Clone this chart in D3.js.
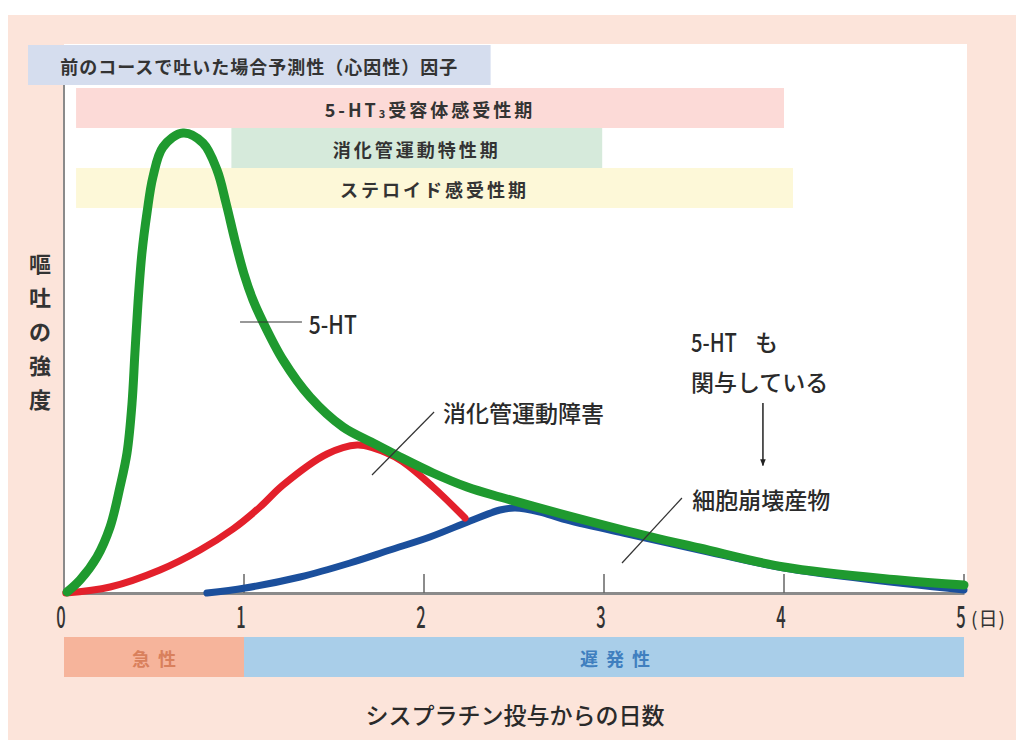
<!DOCTYPE html>
<html><head><meta charset="utf-8">
<script src="https://cdn.jsdelivr.net/npm/d3@7"></script>
<style>
html,body{margin:0;padding:0;background:#fff;}
svg{display:block;}
text{font-family:"Noto Sans CJK JP","Noto Sans",sans-serif;}
</style></head>
<body>
<svg id="chart" width="1016" height="742"></svg>
<script>
// ---- data ----
const xTicks = [0, 1, 2, 3, 4, 5];
const xUnit = "(日)";
const xTitle = "シスプラチン投与からの日数";
const yTitle = "嘔吐の強度";

// 5-HT curve (day, intensity)
const htDays = [0.017,0.089,0.183,0.256,0.311,0.35,0.378,0.394,0.411,0.433,0.461,0.494,0.55,0.661,0.772,0.85,0.9,0.95,1.0,1.05,1.1,1.217,1.367,1.55,1.717,1.867,2.05,2.239,2.422,3.106,3.53,4.0,4.64,5.0];
const htVals = [0.2,2.6,7.2,13.2,21.2,28,38,48,58,68,76,83.2,89.2,92,90,84.6,78,70.5,63.8,58.6,54.6,46.6,39.2,33.2,30,27.2,24,21.2,19.2,12.6,9,5.2,2.6,1.6];
// 消化管運動障害 curve
const giDays = [0.01,0.256,0.533,0.756,0.939,1.089,1.217,1.461,1.628,1.717,1.867,2.05,2.228];
const giVals = [0,1.2,4.6,8.6,12.8,17.2,21.6,27.8,29.6,29,26.6,21.2,15];
// 細胞崩壊産物 curve
const cellDays = [0.794,1.006,1.311,1.589,1.811,2.033,2.256,2.422,2.506,2.644,2.772,3.106,3.53,4.0,5.0];
const cellVals = [0,1,3.2,6,8.6,11.2,14.4,16.6,17,16.2,14.8,12,8.6,5,0.6];

// period bars at top (start day, end day)
const periodLabels = ["前のコースで吐いた場合予測性（心因性）因子", "5-HT3受容体感受性期", "消化管運動特性期", "ステロイド感受性期"];
const periodStart = [-0.2, 0.067, 0.93, 0.067];
const periodEnd = [2.37, 4.0, 2.99, 4.05];

// phase bars below axis
const phaseLabels = ["急 性", "遅 発 性"];
const phaseStart = [0, 1];
const phaseEnd = [1, 5];

// annotations
const annoLabels = ["5-HT", "消化管運動障害", "細胞崩壊産物"];
const annoLineFrom = [[0.978,54.2],[2.056,36.2],[3.433,19]];
const annoLineTo = [[1.322,54.2],[1.711,23.6],[3.10,6]];
const annoTextAt = [[1.36,54.0],[2.105,36.2],[3.49,18.8]];
const noteLines = ["5-HT も", "関与している"];
const noteAt = [3.483, 50.4];
const arrowFrom = [3.883, 38];
const arrowTo = [3.883, 25.5];

// ---- styles ----
const periodColors = ["#d5ddee", "#fcdad7", "#d6eadb", "#fdf8d8"];
const periodRowTop = [45, 88, 128, 168];
const periodRowH = 40;
const phaseColors = ["#f6b49b", "#a9cee9"];
const phaseTextColors = ["#d9805c", "#3f7fbf"];

const svg = d3.select("#chart");
const W = 1016, H = 742;
const x = d3.scaleLinear().domain([0, 5]).range([64, 964]);
const y = d3.scaleLinear().domain([0, 100]).range([593, 93]);

// background
svg.append("rect").attr("x", 0).attr("y", 0).attr("width", W).attr("height", H).attr("fill", "#fff");
svg.append("rect").attr("x", 8).attr("y", 15).attr("width", 1008).attr("height", 725).attr("fill", "#fce4da");
svg.append("rect").attr("x", 64).attr("y", 44).attr("width", 903).attr("height", 549).attr("fill", "#fff");

// period bars
const pg = svg.append("g");
periodLabels.forEach((lab, i) => {
  const x0 = i === 0 ? 28 : x(periodStart[i]);
  const x1 = x(periodEnd[i]);
  pg.append("rect").attr("x", x0).attr("y", periodRowTop[i]).attr("width", x1 - x0).attr("height", periodRowH).attr("fill", periodColors[i]);
  const t = pg.append("text").attr("x", (x0 + x1) / 2).attr("y", periodRowTop[i] + periodRowH / 2 + 1)
    .attr("text-anchor", "middle").attr("dominant-baseline", "central")
    .attr("font-size", 18).attr("font-weight", 700).attr("fill", "#333")
    .attr("letter-spacing", i === 0 ? 1 : 3);
  if (lab.startsWith("5-HT3")) {
    t.append("tspan").text("5-HT");
    t.append("tspan").text("3").attr("font-size", 11).attr("dy", 4);
    t.append("tspan").text(lab.slice(5)).attr("dy", -4);
  } else {
    t.text(lab);
  }
});

// axes
const axisColor = "#8a8a8a";
svg.append("line").attr("x1", x(0)).attr("x2", x(0)).attr("y1", 85).attr("y2", y(0)).attr("stroke", axisColor).attr("stroke-width", 2);
const xAxis = d3.axisBottom(x).tickValues(xTicks).tickSize(0).tickFormat("");
const gx = svg.append("g").attr("transform", `translate(0,${y(0)})`).call(xAxis);
gx.select(".domain").attr("stroke", axisColor).attr("stroke-width", 3);
xTicks.filter(d => d > 0).forEach(d => {
  svg.append("line").attr("x1", x(d)).attr("x2", x(d)).attr("y1", y(0)).attr("y2", y(0) - 19).attr("stroke", "#666").attr("stroke-width", 1.5);
});
xTicks.forEach(d => {
  const cx = x(d) - 3;
  svg.append("text").attr("x", cx).attr("y", 615).attr("text-anchor", "middle").attr("dominant-baseline", "central")
    .attr("font-size", 30).attr("font-weight", 500).attr("fill", "#333")
    .attr("transform", `translate(${cx},0) scale(0.55,1) translate(${-cx},0)`)
    .text(d);
});
svg.append("text").attr("x", 971).attr("y", 617).attr("dominant-baseline", "central")
  .attr("font-size", 19).attr("fill", "#333").attr("letter-spacing", 1).text(xUnit);

// curves
const line = d3.line().x(d => x(d[0])).y(d => y(d[1])).curve(d3.curveCatmullRom.alpha(0.5));
const series = [
  {days: cellDays, vals: cellVals, color: "#1b4f9c", w: 7},
  {days: giDays, vals: giVals, color: "#e3202b", w: 7},
  {days: htDays, vals: htVals, color: "#1f9a2f", w: 9}
];
series.forEach(s => {
  svg.append("path").datum(s.days.map((d, i) => [d, s.vals[i]]))
    .attr("d", line).attr("fill", "none").attr("stroke", s.color).attr("stroke-width", s.w)
    .attr("stroke-linecap", "round").attr("stroke-linejoin", "round");
});

// annotations
annoLabels.forEach((lab, i) => {
  svg.append("line").attr("x1", x(annoLineFrom[i][0])).attr("y1", y(annoLineFrom[i][1]))
    .attr("x2", x(annoLineTo[i][0])).attr("y2", y(annoLineTo[i][1]))
    .attr("stroke", "#333").attr("stroke-width", 1.2);
  const t = svg.append("text").attr("x", x(annoTextAt[i][0])).attr("y", y(annoTextAt[i][1]))
    .attr("dominant-baseline", "central").attr("font-size", i === 0 ? 25 : 23).attr("font-weight", 500).attr("fill", "#2a2a2a").text(lab);
  if (i === 0) t.attr("textLength", 48).attr("lengthAdjust", "spacingAndGlyphs");
});
noteLines.forEach((lab, i) => {
  const t = svg.append("text").attr("x", x(noteAt[0])).attr("y", y(noteAt[1]) + i * 40)
    .attr("dominant-baseline", "central").attr("font-size", 23).attr("font-weight", 500).attr("fill", "#2a2a2a");
  if (i === 0) {
    t.append("tspan").text("5-HT").attr("font-size", 25).attr("textLength", 46).attr("lengthAdjust", "spacingAndGlyphs");
    t.append("tspan").attr("dx", 18).text("も");
  } else t.text(lab);
});
svg.append("defs").append("marker").attr("id", "arr").attr("viewBox", "0 0 10 10").attr("refX", 9).attr("refY", 5)
  .attr("markerWidth", 7).attr("markerHeight", 7).attr("markerUnits", "userSpaceOnUse").attr("orient", "auto")
  .append("path").attr("d", "M0,1 L10,5 L0,9 Z").attr("fill", "#222");
svg.append("line").attr("x1", x(arrowFrom[0])).attr("y1", y(arrowFrom[1])).attr("x2", x(arrowTo[0])).attr("y2", y(arrowTo[1]))
  .attr("stroke", "#222").attr("stroke-width", 1.5).attr("marker-end", "url(#arr)");

// y title (vertical)
yTitle.split("").forEach((ch, i) => {
  svg.append("text").attr("x", 40).attr("y", 262 + i * 34).attr("text-anchor", "middle").attr("dominant-baseline", "central")
    .attr("font-size", 22).attr("font-weight", 700).attr("fill", "#333").text(ch);
});

// phase bars
phaseLabels.forEach((lab, i) => {
  svg.append("rect").attr("x", x(phaseStart[i])).attr("y", 637).attr("width", x(phaseEnd[i]) - x(phaseStart[i])).attr("height", 40)
    .attr("fill", phaseColors[i]);
  svg.append("text").attr("x", i === 0 ? 155 : 616).attr("y", 658).attr("text-anchor", "middle").attr("dominant-baseline", "central")
    .attr("font-size", 18).attr("font-weight", 700).attr("fill", phaseTextColors[i]).attr("letter-spacing", 2).text(lab);
});

// x title
svg.append("text").attr("x", 515).attr("y", 714).attr("text-anchor", "middle").attr("dominant-baseline", "central")
  .attr("font-size", 23).attr("font-weight", 500).attr("fill", "#2a2a2a").text(xTitle);
</script>
</body></html>
